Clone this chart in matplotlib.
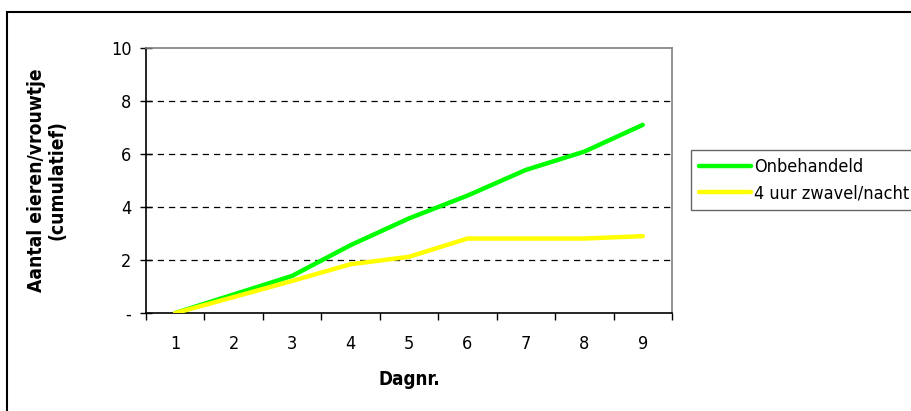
import numpy as np
import matplotlib
matplotlib.use('Agg')
import matplotlib.pyplot as plt
from matplotlib.patches import Rectangle

plt.rcParams['font.family'] = ['DejaVu Sans']
plt.rcParams['font.stretch'] = 'condensed'

days = [1, 2, 3, 4, 5, 6, 7, 8, 9]
onbehandeld = [0.0, 0.70, 1.40, 2.56, 3.57, 4.43, 5.40, 6.09, 7.10]
zwavel = [0.0, 0.60, 1.21, 1.84, 2.12, 2.81, 2.81, 2.81, 2.90]
yticks = [0, 2, 4, 6, 8, 10]
ytick_labels = ['-', '2', '4', '6', '8', '10']

W, H = 912, 411
fig = plt.figure(figsize=(W / 100, H / 100), dpi=100)

# plot area in pixels
left, right, top, bottom = 146, 672, 48, 313
ax = fig.add_axes([left / W, 1 - bottom / H, (right - left) / W, (bottom - top) / H])

x = np.arange(len(days))
ax.plot(x, onbehandeld, color='#00FF00', lw=3.2, solid_capstyle='round',
        solid_joinstyle='round', label='Onbehandeld', zorder=3)
ax.plot(x, zwavel, color='#FFFF00', lw=3.2, solid_capstyle='round',
        solid_joinstyle='round', label='4 uur zwavel/nacht', zorder=3)

ax.set_xlim(-0.5, len(days) - 0.5)
ax.set_ylim(0, 10)

ax.set_yticks(yticks)
ax.set_yticklabels(ytick_labels, fontsize=13)
ax.tick_params(axis='y', direction='inout', length=9, width=1, pad=6)

ax.set_xticks(x)
ax.set_xticklabels([str(d) for d in days], fontsize=13)
ax.set_xticks(np.arange(-0.5, len(days)), minor=True)
ax.tick_params(axis='x', which='major', length=0, pad=16)
ax.tick_params(axis='x', which='minor', direction='out', length=5, width=1)

for yv in yticks[1:-1]:
    ax.axhline(yv, color='black', lw=0.9, ls=(0, (5, 4)), zorder=1)

ax.spines['left'].set_color('black')
ax.spines['bottom'].set_color('black')
ax.spines['top'].set_color('#808080')
ax.spines['right'].set_color('#808080')
for s in ax.spines.values():
    s.set_linewidth(1.2)

ax.set_xlabel('Dagnr.', fontsize=13.5, fontweight='bold', labelpad=12)
fig.text(47 / W, 1 - 180 / H, 'Aantal eieren/vrouwtje\n(cumulatief)', rotation=90,
         ha='center', va='center', fontsize=13.8, fontweight='bold', linespacing=1.1)

leg = fig.legend(loc='upper left', bbox_to_anchor=(691 / W, 1 - 150 / H),
                 fontsize=13, frameon=True, fancybox=False, handlelength=2.9,
                 handletextpad=0.15, borderpad=0.45, labelspacing=0.45,
                 borderaxespad=0)
leg.get_frame().set_edgecolor('#404040')
leg.get_frame().set_linewidth(1.0)

# outer chart border (extends beyond the right and bottom edges)
fig.patches.append(Rectangle((7 / W, -0.1), 1.2, 1 - 12 / H + 0.1,
                             transform=fig.transFigure, fill=False,
                             edgecolor='black', lw=1.5))

fig.savefig('out.png', dpi=100)
